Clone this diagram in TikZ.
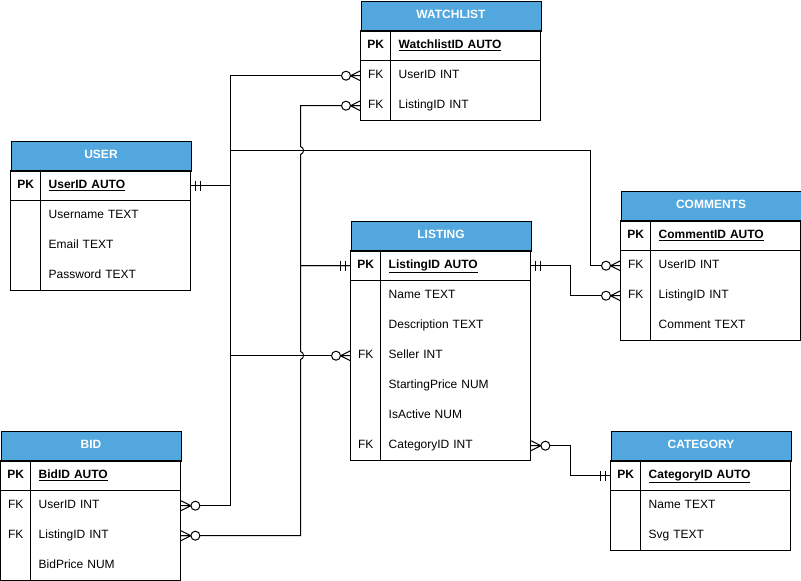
\documentclass[tikz,border=0pt]{standalone}
\usepackage{fontspec}
\setmainfont{Liberation Sans}
\definecolor{hblue}{RGB}{82,167,222}
\tikzset{
  hdr/.style={draw=black, line width=1pt, fill=hblue, text=white, font=\fontsize{12}{14}\selectfont\bfseries, minimum width=180pt, minimum height=30pt, inner sep=0pt, anchor=north west},
  keycell/.style={minimum width=30pt, minimum height=30pt, inner sep=0pt, anchor=north west},
  namecell/.style={minimum height=30pt, text width=134pt, inner xsep=8pt, inner ysep=0pt, align=left, anchor=north west},
  conn/.style={draw=black, line width=1pt},
  frameline/.style={draw=black, line width=1pt},
  zm/.pic={\draw[line width=1pt] (0,-5) -- (10,0) -- (0,5) (0,0) -- (10,0);
           \draw[line width=1pt, fill=white] (14.5,0) circle[radius=4.5pt];},
  mo/.pic={\draw[line width=1pt] (5,-5) -- (5,5) (10,-5) -- (10,5);}
}
\newcommand{\errow}[5]{%
  \node[keycell] (#1k) at (#2,#3) {\strut#4};
  \node[namecell, xshift=30pt] (#1) at (#2,#3) {\strut#5};}
\newcommand{\erframe}[3]{%
  \draw[frameline] (#1,{#2+30}) rectangle ({#1+180},{#2+30+30*#3});
  \draw[frameline] (#1,{#2+60}) -- ({#1+180},{#2+60});
  \draw[frameline] ({#1+30},{#2+30}) -- ({#1+30},{#2+30+30*#3});}
\newcommand{\pkname}[1]{\textbf{\underline{#1}}}
\begin{document}
\begin{tikzpicture}[x=1pt, y=-1pt, font=\fontsize{12}{14}\selectfont]
\useasboundingbox (0,0) rectangle (801,581);

% WATCHLIST
\node[hdr] (wh) at (360.5,0.5) {\strut WATCHLIST};
\errow{wpk}{360.5}{30.5}{\textbf{PK}}{\pkname{WatchlistID AUTO}}
\errow{wu}{360.5}{60.5}{FK}{UserID INT}
\errow{wl}{360.5}{90.5}{FK}{ListingID INT}
\erframe{360.5}{0.5}{3}

% USER
\node[hdr] (uh) at (10.5,140.5) {\strut USER};
\errow{upk}{10.5}{170.5}{\textbf{PK}}{\pkname{UserID AUTO}}
\errow{u1}{10.5}{200.5}{}{Username TEXT}
\errow{u2}{10.5}{230.5}{}{Email TEXT}
\errow{u3}{10.5}{260.5}{}{Password TEXT}
\erframe{10.5}{140.5}{4}

% LISTING
\node[hdr] (lh) at (350.5,220.5) {\strut LISTING};
\errow{lpk}{350.5}{250.5}{\textbf{PK}}{\pkname{ListingID AUTO}}
\errow{l1}{350.5}{280.5}{}{Name TEXT}
\errow{l2}{350.5}{310.5}{}{Description TEXT}
\errow{lsel}{350.5}{340.5}{FK}{Seller INT}
\errow{l4}{350.5}{370.5}{}{StartingPrice NUM}
\errow{l5}{350.5}{400.5}{}{IsActive NUM}
\errow{lcat}{350.5}{430.5}{FK}{CategoryID INT}
\erframe{350.5}{220.5}{7}

% COMMENTS
\node[hdr] (ch) at (620.5,190.5) {\strut COMMENTS};
\errow{cpk}{620.5}{220.5}{\textbf{PK}}{\pkname{CommentID AUTO}}
\errow{cu}{620.5}{250.5}{FK}{UserID INT}
\errow{cl}{620.5}{280.5}{FK}{ListingID INT}
\errow{cc}{620.5}{310.5}{}{Comment TEXT}
\erframe{620.5}{190.5}{4}

% BID
\node[hdr] (bh) at (0.5,430.5) {\strut BID};
\errow{bpk}{0.5}{460.5}{\textbf{PK}}{\pkname{BidID AUTO}}
\errow{bu}{0.5}{490.5}{FK}{UserID INT}
\errow{bl}{0.5}{520.5}{FK}{ListingID INT}
\errow{bp}{0.5}{550.5}{}{BidPrice NUM}
\erframe{0.5}{430.5}{4}

% CATEGORY
\node[hdr] (cath) at (610.5,430.5) {\strut CATEGORY};
\errow{catpk}{610.5}{460.5}{\textbf{PK}}{\pkname{CategoryID AUTO}}
\errow{cat1}{610.5}{490.5}{}{Name TEXT}
\errow{cat2}{610.5}{520.5}{}{Svg TEXT}
\erframe{610.5}{430.5}{3}

% connectors
\draw[conn] (upk.east) -- ++(40,0) |- (wuk.west);
\draw[conn] (upk.east) -- ++(40,0) |- (590.5,150.5) |- (cuk.west);
\draw[conn] (upk.east) -- ++(40,0) |- (lselk.west);
\draw[conn] (upk.east) -- ++(40,0) |- (bu.east);
\draw[conn] (lpkk.west) -| (300.5,154.5) .. controls (304.5,153.5) and (304.5,147.5) .. (300.5,146.5) |- (wlk.west);
\draw[conn] (lpkk.west) -| (300.5,351.5) .. controls (304.5,352.5) and (304.5,358.5) .. (300.5,359.5) |- (bl.east);
\draw[conn] (lpk.east) -- ++(40,0) |- (clk.west);
\draw[conn] (lcat.east) -- ++(40,0) |- (catpkk.west);

% ends
\pic at (upk.east) {mo};
\pic[rotate=180] at (wuk.west) {zm};
\pic[rotate=180] at (cuk.west) {zm};
\pic[rotate=180] at (lselk.west) {zm};
\pic at (bu.east) {zm};
\pic[rotate=180] at (lpkk.west) {mo};
\pic[rotate=180] at (wlk.west) {zm};
\pic at (bl.east) {zm};
\pic at (lpk.east) {mo};
\pic[rotate=180] at (clk.west) {zm};
\pic at (lcat.east) {zm};
\pic[rotate=180] at (catpkk.west) {mo};
\end{tikzpicture}
\end{document}
